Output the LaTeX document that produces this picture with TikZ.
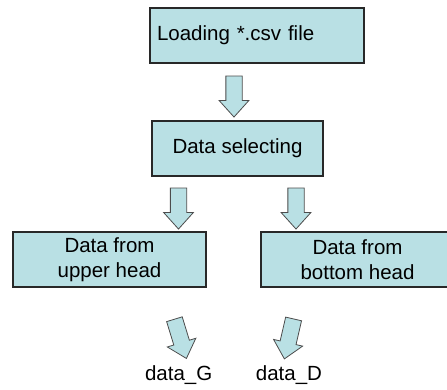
\documentclass[tikz,border=0pt]{standalone}
\usepackage{fontspec}
\setmainfont{Liberation Sans}
\usepackage{tikz}
\usetikzlibrary{shapes.arrows, positioning, calc}
\definecolor{boxfill}{RGB}{185,224,228}
\definecolor{boxline}{RGB}{40,40,40}

\begin{document}
\begin{tikzpicture}[
  x=1pt, y=1pt,
  every node/.style={font=\fontsize{20.5}{25}\selectfont},
  box/.style={rectangle, draw=boxline, line width=1.3pt, fill=boxfill, minimum height=55pt, inner ysep=3pt, align=center, outer sep=0pt},
  fatarrow/.style={single arrow, draw=gray!60!black, line width=0.8pt, fill=boxfill, minimum height=41pt, minimum width=0pt, inner xsep=0pt, inner ysep=7.75pt, single arrow head extend=6.75pt, single arrow tip angle=84}
]
\useasboundingbox (0,0) rectangle (447,-389);

% Boxes
\node[box, minimum width=214pt, text width=200pt, align=left] (load) at (257,-35.5) {Loading *.csv file};
\node[box, minimum width=171pt, below=58pt of load, xshift=-19.5pt] (select) {Data selecting};
\node[box, minimum width=193pt, below=56pt of select, xshift=-128pt] (upper) {Data from\\upper head};
\node[box, minimum width=193pt, right=55pt of upper] (bottom) {Data from\\bottom head};

% Block arrows
\node[fatarrow, rotate=-90] (arrLoad) at ($(select.north)+(-3.5,29)$) {};
\node[fatarrow, rotate=-90] (arrUpper) at ($(select.south)+(-59,-28)$) {};
\node[fatarrow, rotate=-90] (arrBottom) at ($(select.south)+(58.5,-28)$) {};
\node[fatarrow, rotate=-73] (arrG) at ($(upper.south)+(69.6,-47.5)$) {};
\node[fatarrow, rotate=-103] (arrD) at ($(bottom.south)+(-67.5,-47.5)$) {};

% Outputs
\node[anchor=base] (dataG) at ($(arrG)+(-0.4,-45.5)$) {data\_G};
\node[anchor=base] (dataD) at ($(arrD)+(-1,-45.5)$) {data\_D};
\end{tikzpicture}
\end{document}
